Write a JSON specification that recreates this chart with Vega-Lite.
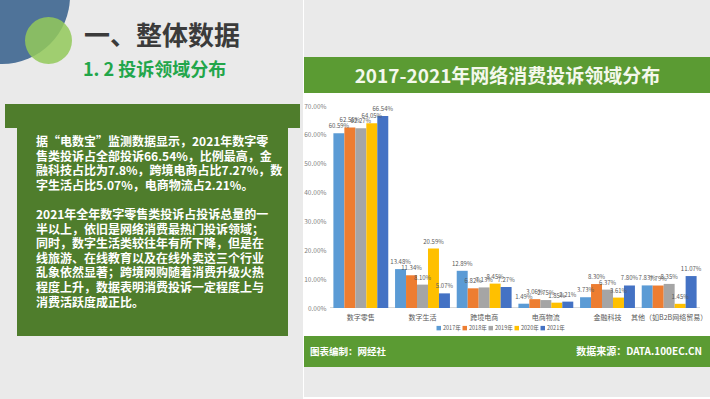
{
  "$schema": "https://vega.github.io/schema/vega-lite/v6.json",
  "padding": 0,
  "background": "#ffffff",
  "spacing": 0,
  "config": {
    "view": {"stroke": null},
    "concat": {"spacing": 0},
    "font": "Noto Sans CJK SC"
  },
  "resolve": {"scale": {"color": "independent"}, "legend": {"color": "independent"}},
  "hconcat": [
    {
      "spacing": 0,
      "vconcat": [
        {
          "width": 303,
          "height": 104,
          "view": {"fill": "#eaeaea"},
          "layer": [
            {
              "data": {"values": [{"shape": "blue"}]},
              "mark": {"type": "point", "filled": true, "shape": "circle", "size": 18496, "color": "#4f7399", "opacity": 1, "clip": true},
              "encoding": {
                "x": {"datum": 2, "type": "quantitative", "scale": {"domain": [0, 303], "nice": false, "zero": false}, "axis": null},
                "y": {"datum": -4, "type": "quantitative", "scale": {"domain": [0, 104], "reverse": true, "nice": false, "zero": false}, "axis": null}
              }
            },
            {
              "data": {"values": [{"shape": "green"}]},
              "mark": {"type": "point", "filled": true, "shape": "circle", "size": 2209, "color": "#93c95a", "opacity": 0.85, "clip": true},
              "encoding": {
                "x": {"datum": 48.5, "type": "quantitative", "scale": {"domain": [0, 303], "nice": false, "zero": false}, "axis": null},
                "y": {"datum": 40.5, "type": "quantitative", "scale": {"domain": [0, 104], "reverse": true, "nice": false, "zero": false}, "axis": null}
              }
            },
            {
              "data": {"values": [{"t": "一、整体数据"}]},
              "mark": {"type": "text", "align": "left", "baseline": "middle", "fontSize": 26, "fontWeight": "bold", "color": "#3b3b3b"},
              "encoding": {
                "text": {"field": "t"},
                "x": {"datum": 84, "type": "quantitative", "scale": {"domain": [0, 303], "nice": false, "zero": false}, "axis": null},
                "y": {"datum": 37, "type": "quantitative", "scale": {"domain": [0, 104], "reverse": true, "nice": false, "zero": false}, "axis": null}
              }
            },
            {
              "data": {"values": [{"t": "1. 2  投诉领域分布"}]},
              "mark": {"type": "text", "align": "left", "baseline": "middle", "fontSize": 18, "fontWeight": "bold", "color": "#22a64a"},
              "encoding": {
                "text": {"field": "t"},
                "x": {"datum": 83, "type": "quantitative", "scale": {"domain": [0, 303], "nice": false, "zero": false}, "axis": null},
                "y": {"datum": 71, "type": "quantitative", "scale": {"domain": [0, 104], "reverse": true, "nice": false, "zero": false}, "axis": null}
              }
            }
          ]
        },
        {
          "spacing": 0,
          "hconcat": [
            {"width": 5, "height": 24, "view": {"fill": "#eaeaea"}, "data": {"values": []}, "mark": "text"},
            {"width": 295, "height": 24, "view": {"fill": "#4f7d2c"}, "data": {"values": []}, "mark": "text"},
            {"width": 3, "height": 24, "view": {"fill": "#eaeaea"}, "data": {"values": []}, "mark": "text"}
          ]
        },
        {
          "spacing": 0,
          "hconcat": [
            {"width": 17, "height": 208, "view": {"fill": "#eaeaea"}, "data": {"values": []}, "mark": "text"},
            {
              "width": 271,
              "height": 208,
              "view": {"fill": "#4f7d2c"},
              "data": {
                "values": [
                  {"line": 1, "text": "据“电数宝”监测数据显示，2021年数字零"},
                  {"line": 2, "text": "售类投诉占全部投诉66.54%，比例最高，金"},
                  {"line": 3, "text": "融科技占比为7.8%，跨境电商占比7.27%，数"},
                  {"line": 4, "text": "字生活占比5.07%，电商物流占2.21%。"},
                  {"line": 6, "text": "2021年全年数字零售类投诉占投诉总量的一"},
                  {"line": 7, "text": "半以上，依旧是网络消费最热门投诉领域；"},
                  {"line": 8, "text": "同时，数字生活类较往年有所下降，但是在"},
                  {"line": 9, "text": "线旅游、在线教育以及在线外卖这三个行业"},
                  {"line": 10, "text": "乱象依然显著；跨境网购随着消费升级火热"},
                  {"line": 11, "text": "程度上升，数据表明消费投诉一定程度上与"},
                  {"line": 12, "text": "消费活跃度成正比。"}
                ]
              },
              "mark": {"type": "text", "align": "left", "baseline": "middle", "fontSize": 12, "fontWeight": "bold", "color": "#ffffff"},
              "encoding": {
                "text": {"field": "text"},
                "x": {"datum": 19, "type": "quantitative", "scale": {"domain": [0, 271], "nice": false, "zero": false}, "axis": null},
                "y": {"field": "line", "type": "quantitative", "scale": {"domain": [0.04, 14.29], "reverse": true, "nice": false, "zero": false}, "axis": null}
              }
            },
            {"width": 15, "height": 208, "view": {"fill": "#eaeaea"}, "data": {"values": []}, "mark": "text"}
          ]
        },
        {"width": 303, "height": 63, "view": {"fill": "#eaeaea"}, "data": {"values": []}, "mark": "text"}
      ]
    },
    {
      "spacing": 0,
      "resolve": {"scale": {"color": "independent"}, "legend": {"color": "independent"}},
      "vconcat": [
        {"width": 407, "height": 57, "view": {"fill": "#eaeaea"}, "data": {"values": []}, "mark": "text"},
        {
          "width": 407,
          "height": 36,
          "view": {"fill": "#5b9b33"},
          "data": {"values": [{"title": "2017-2021年网络消费投诉领域分布"}]},
          "mark": {"type": "text", "fontSize": 19, "fontWeight": "bold", "color": "#f4f8ec", "baseline": "middle", "dy": 2},
          "encoding": {"text": {"field": "title"}}
        },
        {"width": 407, "height": 10, "data": {"values": []}, "mark": "text"},
        {
          "width": 407,
          "height": 202,
          "data": {
            "values": [
              {"category": "数字零售", "year": "2017年", "value": 0.6059},
              {"category": "数字零售", "year": "2018年", "value": 0.6255},
              {"category": "数字零售", "year": "2019年", "value": 0.6227},
              {"category": "数字零售", "year": "2020年", "value": 0.6405},
              {"category": "数字零售", "year": "2021年", "value": 0.6654},
              {"category": "数字生活", "year": "2017年", "value": 0.1348},
              {"category": "数字生活", "year": "2018年", "value": 0.1134},
              {"category": "数字生活", "year": "2019年", "value": 0.081},
              {"category": "数字生活", "year": "2020年", "value": 0.2059},
              {"category": "数字生活", "year": "2021年", "value": 0.0507},
              {"category": "跨境电商", "year": "2017年", "value": 0.1289},
              {"category": "跨境电商", "year": "2018年", "value": 0.0682},
              {"category": "跨境电商", "year": "2019年", "value": 0.0713},
              {"category": "跨境电商", "year": "2020年", "value": 0.0845},
              {"category": "跨境电商", "year": "2021年", "value": 0.0727},
              {"category": "电商物流", "year": "2017年", "value": 0.0149},
              {"category": "电商物流", "year": "2018年", "value": 0.0306},
              {"category": "电商物流", "year": "2019年", "value": 0.0275},
              {"category": "电商物流", "year": "2020年", "value": 0.0185},
              {"category": "电商物流", "year": "2021年", "value": 0.0221},
              {"category": "金融科技", "year": "2017年", "value": 0.0373},
              {"category": "金融科技", "year": "2018年", "value": 0.083},
              {"category": "金融科技", "year": "2019年", "value": 0.0637},
              {"category": "金融科技", "year": "2020年", "value": 0.0361},
              {"category": "金融科技", "year": "2021年", "value": 0.078},
              {"category": "其他（如B2B网络贸易）", "year": "2017年", "value": 0.0783},
              {"category": "其他（如B2B网络贸易）", "year": "2018年", "value": 0.0779},
              {"category": "其他（如B2B网络贸易）", "year": "2019年", "value": 0.0835},
              {"category": "其他（如B2B网络贸易）", "year": "2020年", "value": 0.0145},
              {"category": "其他（如B2B网络贸易）", "year": "2021年", "value": 0.1107}
            ]
          },
          "encoding": {
            "x": {
              "field": "category",
              "type": "nominal",
              "sort": ["数字零售", "数字生活", "跨境电商", "电商物流", "金融科技", "其他（如B2B网络贸易）"],
              "scale": {"paddingInner": 0.11, "paddingOuter": 0.055, "range": [26, 396]},
              "axis": {"title": null, "labelAngle": 0, "labelFontSize": 7, "labelColor": "#595959", "ticks": false, "domain": false, "labelPadding": 5}
            },
            "y": {
              "field": "value",
              "type": "quantitative",
              "scale": {"domain": [0, 0.7], "nice": false},
              "axis": {"title": null, "values": [0, 0.1, 0.2, 0.3, 0.4, 0.5, 0.6, 0.7], "format": ".2%", "labelFontSize": 6.5, "labelColor": "#7f7f7f", "grid": false, "domain": false, "ticks": false, "labelPadding": 4, "offset": -26}
            }
          },
          "layer": [
            {
              "mark": {"type": "bar", "width": {"band": 1.1236}, "color": "#d9d9d9"},
              "encoding": {
                "y": {"datum": 0, "type": "quantitative"},
                "y2": {"datum": 0.0035}
              }
            },
            {
              "mark": {"type": "bar"},
              "encoding": {
                "xOffset": {"field": "year", "type": "nominal"},
                "color": {
                  "field": "year",
                  "type": "nominal",
                  "scale": {"domain": ["2017年", "2018年", "2019年", "2020年", "2021年"], "range": ["#5b9bd5", "#ed7d31", "#a5a5a5", "#ffc000", "#4472c4"]},
                  "legend": {"orient": "none", "legendX": 132, "legendY": 219, "direction": "horizontal", "title": null, "symbolType": "square", "symbolSize": 20, "symbolStrokeWidth": 0, "labelFontSize": 5.5, "labelColor": "#595959", "columnPadding": 1, "labelOffset": 1.5}
                }
              }
            },
            {
              "mark": {"type": "text", "dy": -4, "fontSize": 6, "color": "#595959", "baseline": "bottom"},
              "encoding": {
                "xOffset": {"field": "year", "type": "nominal"},
                "text": {"field": "value", "type": "quantitative", "format": ".2%"}
              }
            }
          ]
        },
        {"width": 407, "height": 4, "data": {"values": []}, "mark": "text"},
        {
          "width": 407,
          "height": 31,
          "view": {"fill": "#5b9b33"},
          "layer": [
            {
              "data": {"values": [{"t": "图表编制：网经社"}]},
              "mark": {"type": "text", "align": "left", "baseline": "middle", "fontSize": 9.5, "fontWeight": "bold", "color": "#ffffff"},
              "encoding": {
                "text": {"field": "t"},
                "x": {"datum": 6, "type": "quantitative", "scale": {"domain": [0, 407], "nice": false, "zero": false}, "axis": null}
              }
            },
            {
              "data": {"values": [{"t": "数据来源：DATA.100EC.CN"}]},
              "mark": {"type": "text", "align": "right", "baseline": "middle", "fontSize": 10, "fontWeight": "bold", "color": "#ffffff"},
              "encoding": {
                "text": {"field": "t"},
                "x": {"datum": 398, "type": "quantitative", "scale": {"domain": [0, 407], "nice": false, "zero": false}, "axis": null}
              }
            }
          ]
        },
        {"width": 407, "height": 30, "view": {"fill": "#eaeaea"}, "data": {"values": []}, "mark": "text"}
      ]
    }
  ]
}
